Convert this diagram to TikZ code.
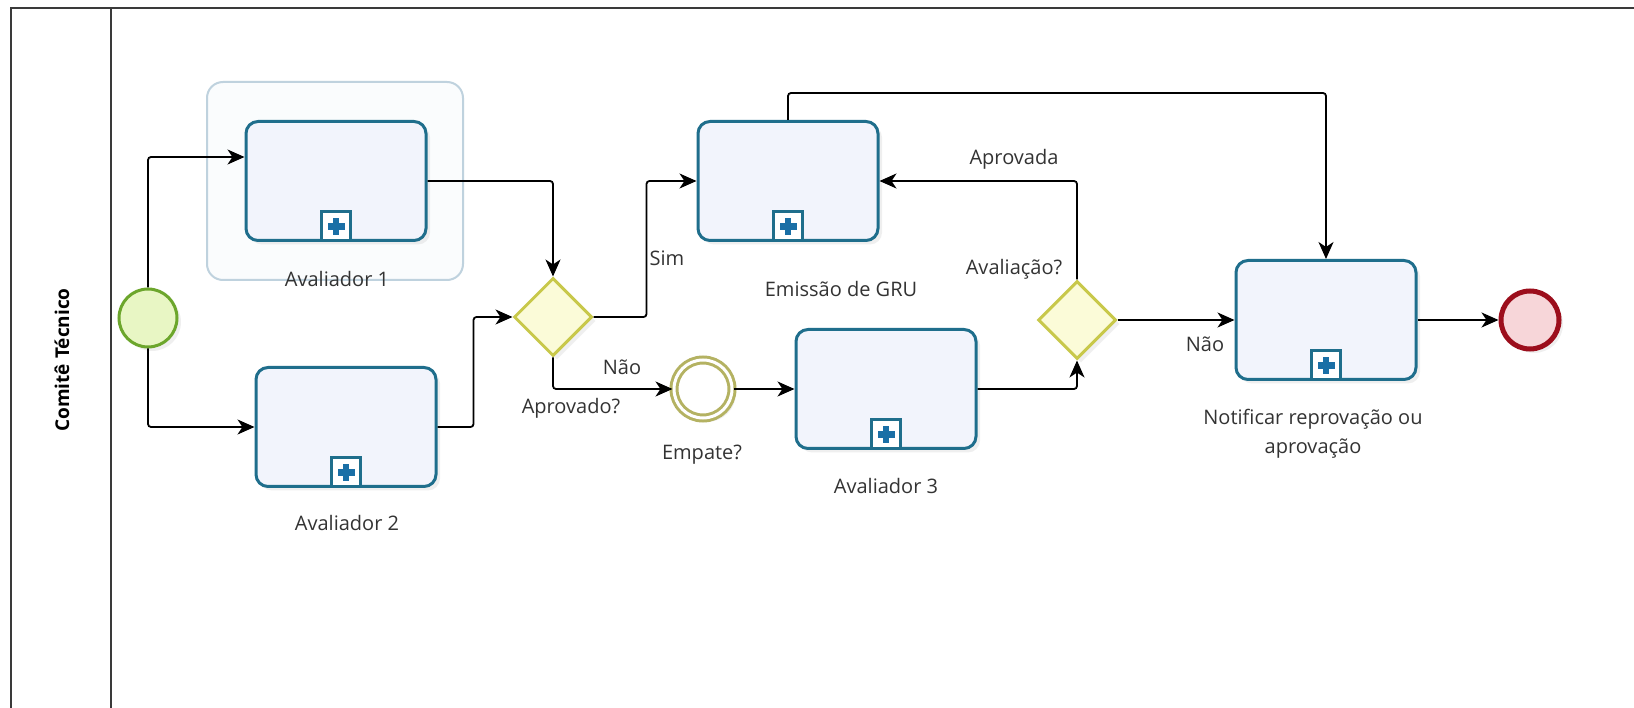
\documentclass[tikz,border=0pt]{standalone}
\usepackage{fontspec}
\setmainfont{Open Sans}
\usetikzlibrary{arrows.meta,shapes.geometric,shadows,calc}
\definecolor{taskc}{HTML}{1F6E8C}
\definecolor{taskfill}{HTML}{F2F4FC}
\definecolor{plusc}{HTML}{1A6FA6}
\definecolor{startc}{HTML}{6CA62C}
\definecolor{startfill}{HTML}{E8F6C4}
\definecolor{gwc}{HTML}{C8C84A}
\definecolor{gwfill}{HTML}{FBFBD8}
\definecolor{midc}{HTML}{B4B262}
\definecolor{endc}{HTML}{9C0E1C}
\definecolor{endfill}{HTML}{F7D6D9}
\definecolor{selc}{HTML}{BFD2DE}
\definecolor{selfill}{HTML}{FAFCFD}
\definecolor{txt}{HTML}{333333}
\definecolor{lanec}{HTML}{3A3A3A}
\begin{document}
\begin{tikzpicture}[x=1pt,y=-1pt,
  shad/.style={drop shadow={opacity=0.12,shadow xshift=4pt,shadow yshift=-4pt}},
  task/.style={draw=taskc,line width=3pt,rounded corners=12pt,fill=taskfill,
    minimum width=180pt,minimum height=119pt,inner sep=0pt,shad},
  plusbox/.style={draw=taskc,line width=2.5pt,fill=white,minimum size=29pt,inner sep=0pt,anchor=south,
    path picture={
      \fill[plusc] ([xshift=-8.5pt,yshift=-3.3pt]path picture bounding box.center) rectangle ([xshift=8.5pt,yshift=3.3pt]path picture bounding box.center);
      \fill[plusc] ([xshift=-3.3pt,yshift=-8.5pt]path picture bounding box.center) rectangle ([xshift=3.3pt,yshift=8.5pt]path picture bounding box.center);}},
  gw/.style={diamond,aspect=1,draw=gwc,line width=3pt,fill=gwfill,minimum size=78pt,inner sep=0pt,shad},
  startev/.style={circle,draw=startc,line width=3pt,fill=startfill,minimum size=58pt,inner sep=0pt,shad},
  midev/.style={circle,draw=midc,line width=3pt,fill=white,minimum size=58pt,inner sep=0pt,shad,double=white,double distance=3pt},
  endev/.style={circle,draw=endc,line width=5pt,fill=endfill,minimum size=58pt,inner sep=0pt,shad},
  lbl/.style={text=txt,font=\fontsize{20}{29}\selectfont,inner sep=0pt,align=center},
  conn/.style={draw=black,line width=1.8pt,rounded corners=3pt,-{Stealth[length=17pt,width=15pt,inset=5pt]}}
]
\useasboundingbox (0,0) rectangle (1634,708);
\fill[white] (0,0) rectangle (1634,708);
% lane
\draw[lanec,line width=2pt] (11,708) -- (11,8) -- (1634,8);
\draw[lanec,line width=2pt] (111,8) -- (111,708);
\node[rotate=90,text=black,font=\bfseries\fontsize{19}{22}\selectfont] (lane) at (62,360) {Comitê Técnico};
% selection highlight
\node[draw=selc,line width=2pt,rounded corners=16pt,fill=selfill,minimum width=256pt,minimum height=198pt] (sel) at (335,181) {};
% nodes
\node[startev] (s) at (148,318) {};
\node[task] (a1) at (336,181) {};
\node[plusbox] (p1) at (a1.south) {};
\node[task] (a2) at (346,427) {};
\node[plusbox] (p2) at (a2.south) {};
\node[gw] (g1) at (553,317) {};
\node[task] (em) at (788,181) {};
\node[plusbox] (p3) at (em.south) {};
\node[midev] (emp) at (703,389) {};
\node[task] (a3) at (886,389) {};
\node[plusbox] (p4) at (a3.south) {};
\node[gw] (g2) at (1077,320) {};
\node[task] (nt) at (1326,320) {};
\node[plusbox] (p5) at (nt.south) {};
\node[endev] (end) at (1530,320) {};
% labels
\node[lbl] (l1) at (337,279) {Avaliador 1};
\node[lbl] (l2) at (347,523) {Avaliador 2};
\node[lbl] (l3) at (667,258) {Sim};
\node[lbl] (l4) at (622,367) {Não};
\node[lbl] (l5) at (571,408) {Aprovado?};
\node[lbl] (l6) at (702,455) {Empate?};
\node[lbl] (l7) at (841,289) {Emissão de GRU};
\node[lbl] (l8) at (886,486) {Avaliador 3};
\node[lbl] (l9) at (1014,159) {Aprovada};
\node[lbl] (l10) at (1014,269) {Avaliação?};
\node[lbl] (l11) at (1205,344) {Não};
\node[lbl] (l12) at (1313,434) {Notificar reprovação ou\\aprovação};
% connectors
\draw[conn] (s.north) |- ($(a1.west)+(0,-24)$);
\draw[conn] (s.south) |- (a2.west);
\draw[conn] (a1.east) -| (g1.north);
\draw[conn] (a2.east) -- ++(36,0) |- (g1.west);
\draw[conn] (g1.east) -- ++(53,0) |- (em.west);
\draw[conn] (g1.south) |- (emp.west);
\draw[conn] (emp.east) -- (a3.west);
\draw[conn] (a3.east) -| (g2.south);
\draw[conn] (g2.north) |- (em.east);
\draw[conn] (g2.east) -- (nt.west);
\draw[conn] (em.north) -- ++(0,-27) -| (nt.north);
\draw[conn] (nt.east) -- (end.west);
\end{tikzpicture}
\end{document}
